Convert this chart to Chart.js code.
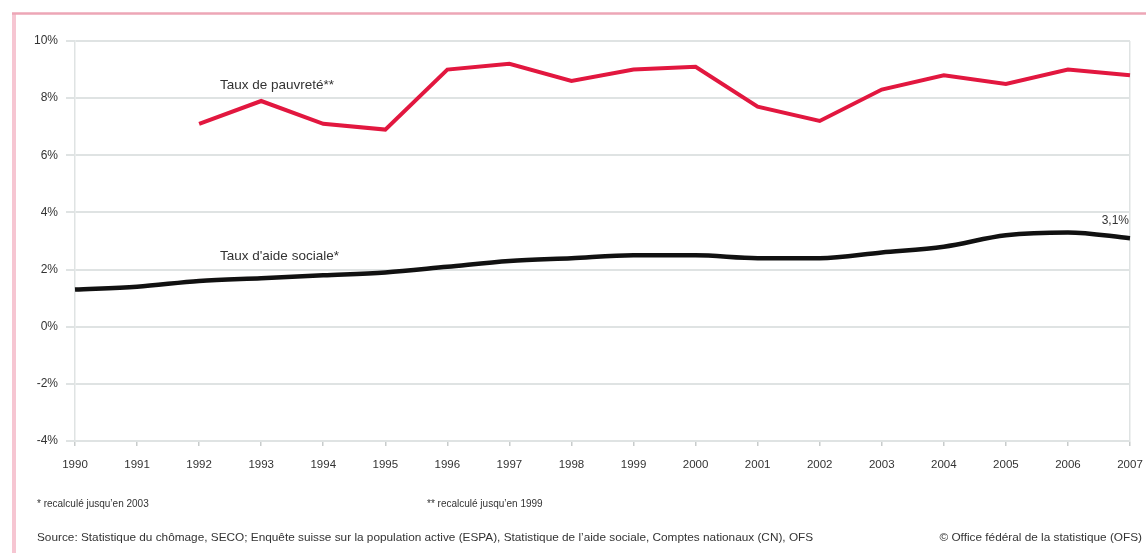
<!DOCTYPE html>
<html>
<head>
<meta charset="utf-8">
<script src="https://cdn.jsdelivr.net/npm/chart.js@4.4.1/dist/chart.umd.min.js"></script>
<style>
  html, body { margin: 0; padding: 0; background: #fff; }
  #wrap { width: 1146px; height: 553px; position: relative; }
</style>
</head>
<body>
<div id="wrap"><canvas id="chart1"></canvas></div>
<script>
// years on the x axis
var years = ['1990','1991','1992','1993','1994','1995','1996','1997','1998','1999',
             '2000','2001','2002','2003','2004','2005','2006','2007'];
// poverty rate (%), no data before 1992
var pauvrete = [null, null, 7.1, 7.9, 7.1, 6.9, 9.0, 9.2, 8.6, 9.0,
                9.1, 7.7, 7.2, 8.3, 8.8, 8.5, 9.0, 8.8];
// social aid rate (%)
var aideSociale = [1.3, 1.4, 1.6, 1.7, 1.8, 1.9, 2.1, 2.3, 2.4, 2.5,
                   2.5, 2.4, 2.4, 2.6, 2.8, 3.2, 3.3, 3.1];
var yTicks = [10, 8, 6, 4, 2, 0, -2, -4];

var labelPauvrete = 'Taux de pauvreté**';
var labelAide = "Taux d'aide sociale*";
var lastLabel = '3,1%';
var note1 = '* recalculé jusqu\u2019en 2003';
var note2 = '** recalculé jusqu\u2019en 1999';
var source = 'Source: Statistique du chômage, SECO; Enquête suisse sur la population active (ESPA), Statistique de l\u2019aide sociale, Comptes nationaux (CN), OFS';
var copyright = '© Office fédéral de la statistique (OFS)';

var font = '"Liberation Sans", Arial, sans-serif';

// draws the frame, the text in the chart and the notes under it
var extras = {
  id: 'extras',
  beforeDraw: function(chart){
    var ctx = chart.ctx;
    ctx.save();
    ctx.fillStyle = '#fff';
    ctx.fillRect(0, 0, chart.width, chart.height);
    ctx.strokeStyle = '#f6c6d2';
    ctx.lineWidth = 4;
    ctx.beginPath();
    ctx.moveTo(14, 553);
    ctx.lineTo(14, 13);
    ctx.stroke();
    ctx.strokeStyle = '#eda6b6';
    ctx.lineWidth = 2.5;
    ctx.beginPath();
    ctx.moveTo(12, 13.5);
    ctx.lineTo(1146, 13.5);
    ctx.stroke();
    ctx.restore();
  },
  afterDraw: function(chart){
    var ctx = chart.ctx;
    var x = chart.scales.x, y = chart.scales.y;
    ctx.save();
    ctx.fillStyle = '#333';
    ctx.textBaseline = 'middle';
    ctx.font = '13.5px ' + font;
    ctx.textAlign = 'left';
    ctx.fillText(labelPauvrete, 220, 85);
    ctx.fillText(labelAide, 220, 256);
    ctx.font = '12px ' + font;
    ctx.textAlign = 'right';
    ctx.fillText(lastLabel, x.getPixelForValue(17) - 1, y.getPixelForValue(aideSociale[17]) - 17);

    ctx.font = '10px ' + font;
    ctx.textAlign = 'left';
    ctx.fillText(note1, 37, 504);
    ctx.fillText(note2, 427, 504);
    ctx.font = '11.8px ' + font;
    ctx.fillText(source, 37, 538);
    ctx.textAlign = 'right';
    ctx.fillText(copyright, 1142, 538);
    ctx.restore();
  }
};

const ctx = document.getElementById('chart1');
new Chart(ctx, {
  type: 'line',
  data: {
    labels: years,
    datasets: [{
      label: labelPauvrete,
      data: pauvrete,
      borderColor: '#e2173f',
      backgroundColor: '#e2173f',
      borderWidth: 4,
      pointRadius: 0,
      tension: 0,
      fill: false
    }, {
      label: labelAide,
      data: aideSociale,
      borderColor: '#111',
      backgroundColor: '#111',
      borderWidth: 4.5,
      pointRadius: 0,
      tension: 0.4,
      cubicInterpolationMode: 'monotone',
      fill: false
    }]
  },
  options: {
    responsive: true,
    maintainAspectRatio: false,
    animation: false,
    layout: { padding: { left: 0, top: 41, right: 16, bottom: 0 } },
    plugins: {
      legend: { display: false },
      tooltip: { enabled: false }
    },
    scales: {
      x: {
        offset: false,
        grid: {
          drawOnChartArea: true,
          color: function(c){
            return (c.index === years.length - 1) ? '#dfe3e3' : 'rgba(0,0,0,0)';
          },
          lineWidth: 1.5,
          tickColor: '#c8cccc',
          tickLength: 5
        },
        border: { display: true, color: '#dfe3e3', width: 1.5 },
        ticks: {
          autoSkip: false,
          maxRotation: 0,
          color: '#333',
          font: { family: font, size: 11.5 },
          padding: 12
        },
        afterFit: function(scale){
          scale.height = 112;
          scale.paddingLeft = 0;
          scale.paddingRight = 0;
        }
      },
      y: {
        min: -4,
        max: 10,
        afterBuildTicks: function(scale){
          scale.ticks = yTicks.map(function(v){ return { value: v }; });
        },
        grid: {
          color: '#dfe3e3',
          lineWidth: 2,
          tickLength: 9,
          tickColor: '#dfe3e3'
        },
        border: { display: true, color: '#dfe3e3', width: 1.5 },
        ticks: {
          color: '#333',
          font: { family: font, size: 12 },
          padding: 8,
          callback: function(v){ return v + '%'; }
        },
        afterFit: function(scale){ scale.width = 75; }
      }
    }
  },
  plugins: [extras]
});
</script>
</body>
</html>
